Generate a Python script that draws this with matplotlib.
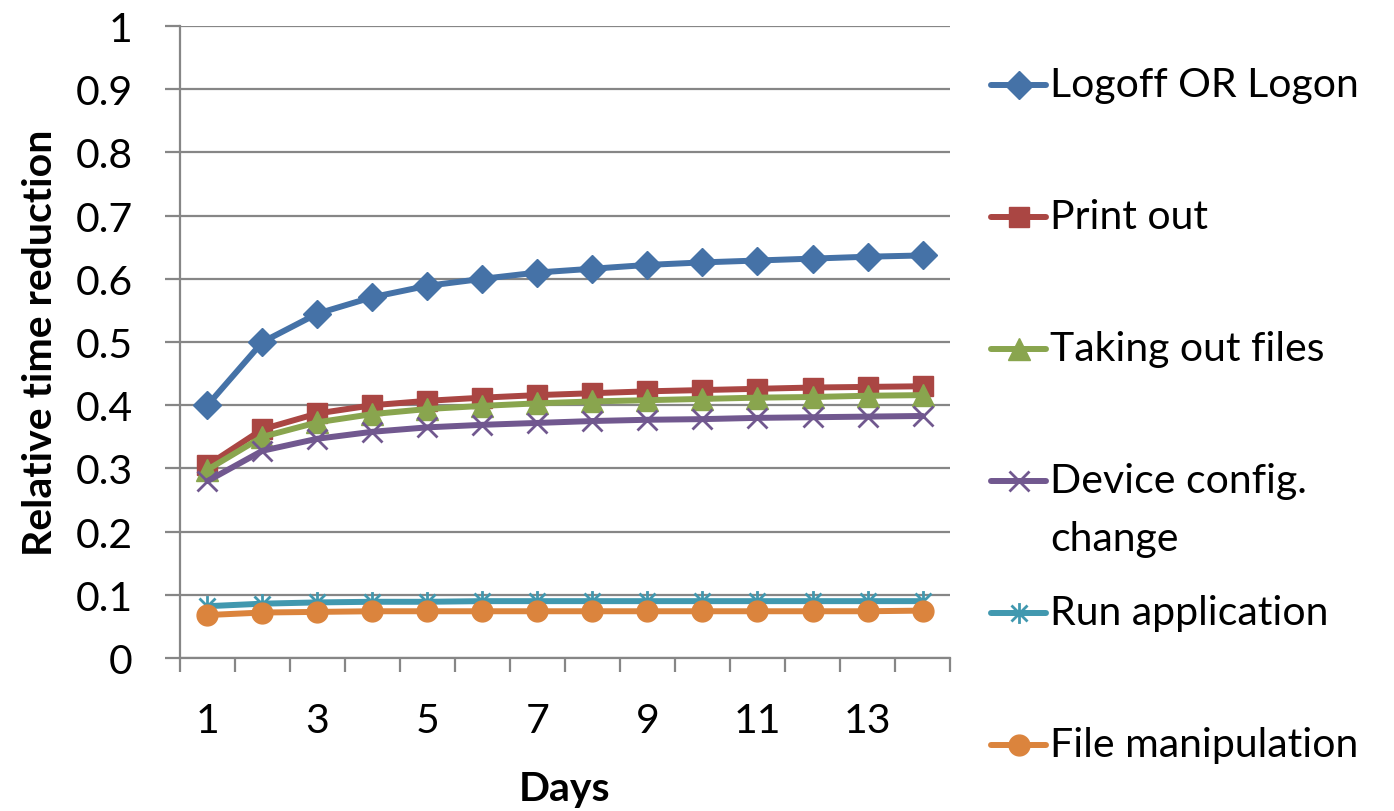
import matplotlib.pyplot as plt
from matplotlib.lines import Line2D
from matplotlib.path import Path

plt.rcParams['font.family'] = ['Lato', 'DejaVu Sans']

days = list(range(1, 15))

logoff = [0.400, 0.500, 0.545, 0.571, 0.589, 0.600, 0.610, 0.616, 0.622, 0.626, 0.629, 0.632, 0.635, 0.637]
print_out = [0.305, 0.362, 0.387, 0.400, 0.407, 0.412, 0.416, 0.419, 0.422, 0.424, 0.426, 0.428, 0.429, 0.430]
taking_files = [0.298, 0.350, 0.373, 0.386, 0.394, 0.399, 0.403, 0.406, 0.408, 0.410, 0.412, 0.413, 0.415, 0.416]
device_cfg = [0.280, 0.328, 0.347, 0.358, 0.365, 0.369, 0.372, 0.375, 0.377, 0.378, 0.380, 0.381, 0.382, 0.383]
run_app = [0.082, 0.086, 0.088, 0.089, 0.089, 0.090, 0.090, 0.090, 0.090, 0.090, 0.090, 0.090, 0.090, 0.090]
file_manip = [0.068, 0.072, 0.073, 0.074, 0.074, 0.074, 0.074, 0.074, 0.074, 0.074, 0.074, 0.074, 0.074, 0.075]

labels = ["Logoff OR Logon", "Print out", "Taking out files",
          "Device config.\nchange", "Run application", "File manipulation"]
y_ticks = [0, 0.1, 0.2, 0.3, 0.4, 0.5, 0.6, 0.7, 0.8, 0.9, 1]
y_tick_labels = ["0", "0.1", "0.2", "0.3", "0.4", "0.5", "0.6", "0.7", "0.8", "0.9", "1"]
x_tick_labels = ["1", "3", "5", "7", "9", "11", "13"]

# asterisk marker (x with a vertical stroke)
star = Path([(-1, -1), (1, 1), (-1, 1), (1, -1), (0, -1.3), (0, 1.3)],
            [Path.MOVETO, Path.LINETO, Path.MOVETO, Path.LINETO, Path.MOVETO, Path.LINETO])

styles = [
    dict(color="#4572A7", marker="D", ms=14),
    dict(color="#AA4643", marker="s", ms=15),
    dict(color="#89A54E", marker="^", ms=16),
    dict(color="#71588F", marker="x", ms=15, mew=2),
    dict(color="#4198AF", marker=star, ms=15, mew=2, mfc="none"),
    dict(color="#DB843D", marker="o", ms=15),
]
series = [logoff, print_out, taking_files, device_cfg, run_app, file_manip]

fig = plt.figure(figsize=(13.94, 8.12), dpi=100)
ax = fig.add_axes([0.1291, 0.1884, 0.5524, 0.7783])

for vals, st in zip(series, styles):
    ax.plot(days, vals, lw=4.3, solid_capstyle="round", **st)

ax.set_xlim(0.5, 14.5)
ax.set_ylim(0, 1)
ax.set_yticks(y_ticks)
ax.set_yticklabels(y_tick_labels)
ax.set_xticks([i + 0.5 for i in range(0, 15)])
ax.set_xticklabels([])
ax.set_xticks(list(range(1, 15, 2)), minor=True)
ax.set_xticklabels(x_tick_labels, minor=True)

grey = "#868686"
ax.grid(axis="y", color=grey, lw=1.6)
ax.set_axisbelow(True)
for s in ["top", "right"]:
    ax.spines[s].set_visible(False)
for s in ["left", "bottom"]:
    ax.spines[s].set_color(grey)
    ax.spines[s].set_linewidth(1.6)
ax.tick_params(axis="y", which="major", length=11, width=1.6, color=grey, pad=23, labelsize=29.5)
ax.tick_params(axis="x", which="major", length=10, width=1.6, color=grey)
ax.tick_params(axis="x", which="minor", length=0, pad=32, labelsize=29.5)

ax.set_ylabel("Relative time reduction", fontsize=29.5, fontweight="bold", labelpad=12)
ax.set_xlabel("Days", fontsize=29.5, fontweight="bold", labelpad=22)

# legend on the right, one entry per row
W, H = 1394, 812
for i, (lab, st) in enumerate(zip(labels, styles)):
    yc = 1 - (86 + 132 * i) / H
    x0, x1 = 991 / W, 1046 / W
    ln = Line2D([x0, (x0 + x1) / 2, x1], [yc, yc, yc], transform=fig.transFigure,
                lw=4.3, solid_capstyle="round", markevery=[1], **st)
    fig.add_artist(ln)
    lines = lab.split("\n")
    for j, t in enumerate(lines):
        fig.text(1050 / W, yc - j * 58 / H, t, fontsize=29.5, va="center", ha="left")

fig.savefig("out.png", dpi=100)
